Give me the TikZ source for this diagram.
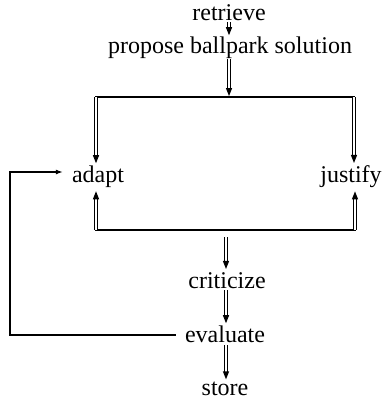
\documentclass[tikz,border=0pt]{standalone}
\usepackage{fontspec}
\setmainfont{Liberation Serif}
\usetikzlibrary{arrows.meta,decorations.markings}
\begin{document}
\begin{tikzpicture}[x=1pt,y=-1pt,
  lbl/.style={anchor=base,inner sep=0pt,font=\fontsize{24}{28}\selectfont},
  dbl/.style={double,double distance=1.8pt,line width=0.8pt,shorten >=5pt,
    postaction={decorate,decoration={markings,mark=at position 1 with {\fill (0pt,0pt) -- (-8pt,3.2pt) -- (-8pt,-3.2pt) -- cycle;}}}},
  bar/.style={line width=1.3pt},
  fb/.style={line width=1.1pt,-{Latex[length=7pt,width=5pt]}}]
\useasboundingbox (0,0) rectangle (381,402);
\node[lbl] (retrieve) at (229,20) {retrieve};
\node[lbl] (propose) at (230,53) {propose ballpark solution};
\node[lbl] (adapt) at (98,182) {adapt};
\node[lbl] (justify) at (351,182) {justify};
\node[lbl] (criticize) at (227,288) {criticize};
\node[lbl] (evaluate) at (225,342) {evaluate};
\node[lbl] (store) at (225,395) {store};
\coordinate (tl) at (96,97);
\coordinate (tr) at (354,97);
\coordinate (tm) at (229,96);
\coordinate (bl) at (96,230);
\coordinate (br) at (355,230);
\coordinate (bm) at (226,237);
\coordinate (fbl) at (10,335);
\coordinate (fbt) at (10,172);
\draw[dbl] ([yshift=-2pt]retrieve.south) -- ([yshift=1pt]retrieve.south |- propose.north);
\draw[dbl] ([yshift=-1pt]propose.south -| tm) -- (tm);
\draw[bar] ([xshift=-1pt]tl) -- ([xshift=1pt]tr);
\draw[dbl] (tl) -- ([yshift=2pt]tl |- adapt.north);
\draw[dbl] (tr) -- ([yshift=2pt]tr |- justify.north);
\draw[bar] ([xshift=-1pt]bl) -- ([xshift=1pt]br);
\draw[dbl] (bl) -- ([yshift=-4pt]bl |- adapt.south);
\draw[dbl] (br) -- ([yshift=-4pt]br |- justify.south);
\draw[dbl] (bm) -- ([yshift=3pt]bm |- criticize.north);
\draw[dbl] ([yshift=-2pt]criticize.south -| bm) -- ([yshift=2pt]bm |- evaluate.north);
\draw[dbl] ([yshift=-3pt]evaluate.south -| bm) -- ([yshift=2pt]bm |- store.north);
\draw[fb] ([xshift=-9pt]evaluate.west |- fbl) -- (fbl) -- (fbt) -- ([xshift=-9pt]adapt.west |- fbt);
\end{tikzpicture}
\end{document}
